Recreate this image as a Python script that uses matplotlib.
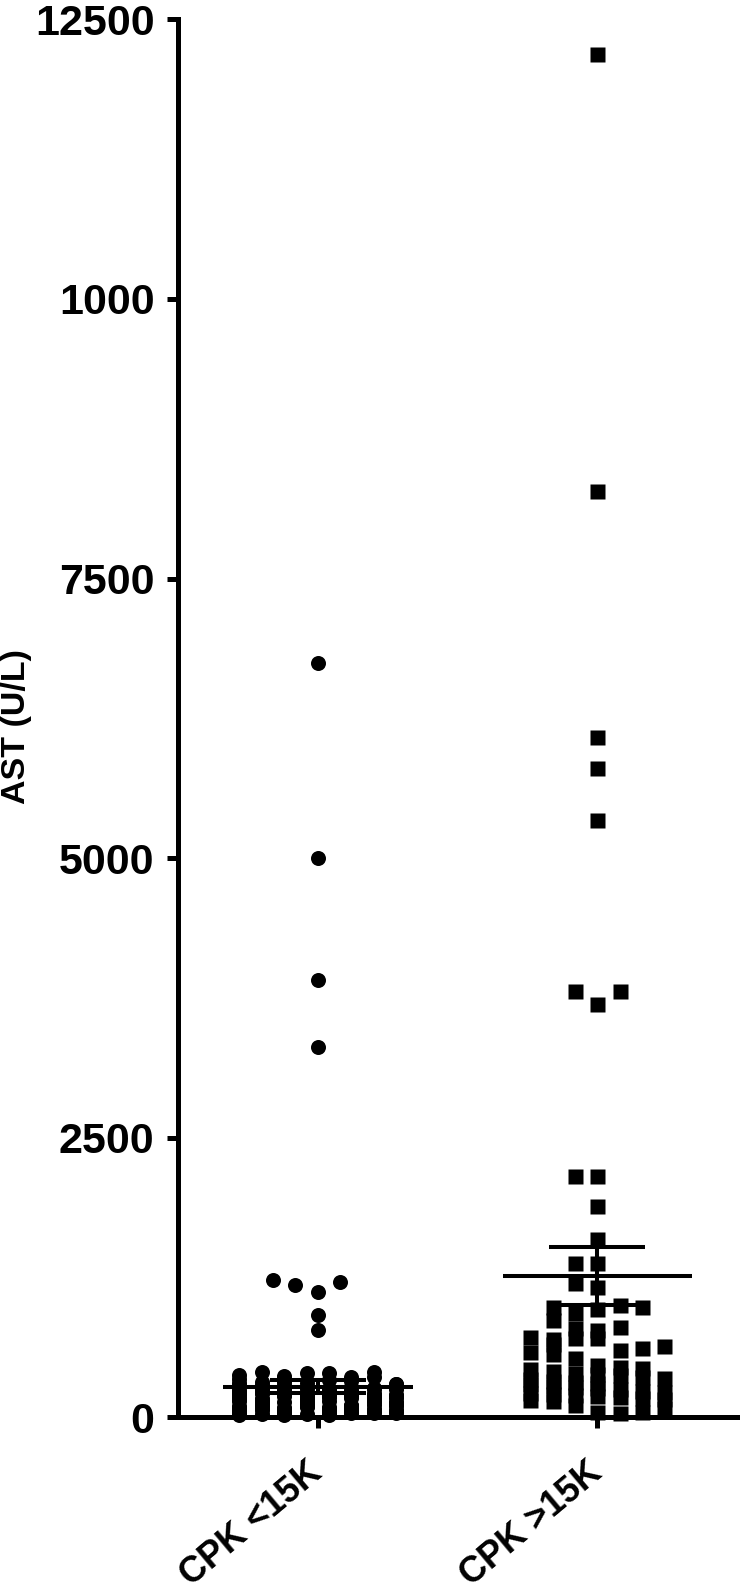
import numpy as np
import matplotlib
matplotlib.use('Agg')
import matplotlib.pyplot as plt

# ---------------- data ----------------
categories = ['CPK <15K', 'CPK >15K']

# AST values, CPK < 15K (circles)
ast_cpk_low = [
    6743, 5005, 3911, 3315,
    1229, 1185, 1125, 1209, 916, 780,
    305, 409, 320, 395, 335, 365, 409, 300, 380, 290, 350, 310, 285, 400, 330,
    360, 298, 345, 315, 372,
    160, 275, 185, 240, 210, 265, 170, 225, 250, 195, 155, 230, 270, 180, 205,
    245, 165, 260, 215, 190, 235, 175, 255, 200, 220, 268, 158, 242, 188, 212,
    262, 172, 228, 198, 252, 182, 238, 208, 272, 162, 218, 248, 192, 232, 178,
    258, 202, 222, 168, 278,
    40, 95, 60, 130, 25, 80, 110, 55, 145, 70, 35, 120, 90, 50, 140, 65, 105,
    30, 85, 125, 45, 100, 75, 135, 20, 115, 58, 92, 148, 38, 68, 128, 48, 108,
    82, 142, 28, 98, 62, 118, 52, 88, 138, 33, 72, 112, 43, 102, 78, 132, 23,
    122, 66, 96, 146, 36, 86, 116, 56, 106,
]

# AST values, CPK > 15K (squares)
ast_cpk_high = [
    12190, 8285, 6087, 5803, 5342, 3813, 3697, 3813, 2159, 2159, 1891, 1593,
    1379, 1379, 1200, 1164, 983, 931, 967, 1006, 867, 991, 797, 717, 699, 708,
    708, 782, 806, 603, 568, 619, 640, 588, 529, 660,
    470, 455, 440, 430, 415, 401, 390, 380, 365, 350, 340, 330, 320, 305, 295,
    285, 275, 262, 250, 240, 232, 220, 210, 200, 190, 182, 175, 168, 158, 150,
    112, 52, 37, 52, 82,
]

# summary lines drawn on the chart (mean and SEM)
group_mean = [275, 1265]
group_sem = [58, 256]

ytick_values = [0, 2500, 5000, 7500, 10000, 12500]
ytick_labels = ['0', '2500', '5000', '7500', '1000', '12500']

# ---------------- style ----------------
plt.rcParams['font.family'] = ['Liberation Sans', 'DejaVu Sans']
plt.rcParams['font.weight'] = 'bold'

fig = plt.figure(figsize=(7.42, 15.93), dpi=100)
ax = fig.add_axes([0.2399, 0.1102, 0.7534, 0.8777])

ax.set_xlim(-0.5, 1.5)
ax.set_ylim(0, 12500)


def scatter_layout(values, center, binsize, step, maxcols):
    """GraphPad-like column scatter: group close values in rows, spread sideways."""
    vals = np.asarray(values, dtype=float)
    order = np.argsort(vals, kind='stable')
    clusters = []
    start = None
    for idx in order:
        if start is None or vals[idx] - start > binsize:
            clusters.append([idx])
            start = vals[idx]
        else:
            clusters[-1].append(idx)
    xs = np.empty(len(vals))
    for cl in clusters:
        cl = sorted(cl)
        n = len(cl)
        for j, idx in enumerate(cl):
            if n <= maxcols:
                off = j - n // 2
            else:
                off = (j % maxcols) - (maxcols - 1) / 2
            xs[idx] = center + off * step
    return xs, vals


step = 0.08
x1, y1 = scatter_layout(ast_cpk_low, 0, 130, step, 8)
x2, y2 = scatter_layout(ast_cpk_high, 1, 130, step, 7)

ax.plot(x1, y1, 'o', color='black', ms=10.8, mec='none', zorder=3, clip_on=False)
ax.plot(x2, y2, 's', color='black', ms=10.8, mec='none', zorder=3, clip_on=False)

# mean and SEM lines
for i in range(2):
    m, s = group_mean[i], group_sem[i]
    ax.hlines(m, i - 0.339, i + 0.339, color='black', lw=2.9, zorder=4)
    ax.hlines([m - s, m + s], i - 0.171, i + 0.171, color='black', lw=2.9, zorder=4)
    ax.vlines(i, m - s, m + s, color='black', lw=2.9, zorder=4)

# axes
for side in ('top', 'right'):
    ax.spines[side].set_visible(False)
for side in ('left', 'bottom'):
    ax.spines[side].set_linewidth(3.6)
    ax.spines[side].set_capstyle('projecting')

ax.set_yticks(ytick_values, ytick_labels)
ax.tick_params(axis='y', width=3.6, length=8, pad=9, labelsize=31)
ax.set_xticks([0, 1])
ax.set_xticklabels(categories, rotation=40, ha='right', va='center',
                   rotation_mode='anchor', fontsize=26, fontweight='bold')
ax.tick_params(axis='x', width=3.6, length=8, pad=29)
for lab in ax.get_yticklabels():
    lab.set_fontweight('bold')

ax.set_ylabel('AST (U/L)', fontsize=24.5, fontweight='bold')
ax.yaxis.set_label_coords(-0.261, 0.494)

fig.savefig('out.png', dpi=100)
